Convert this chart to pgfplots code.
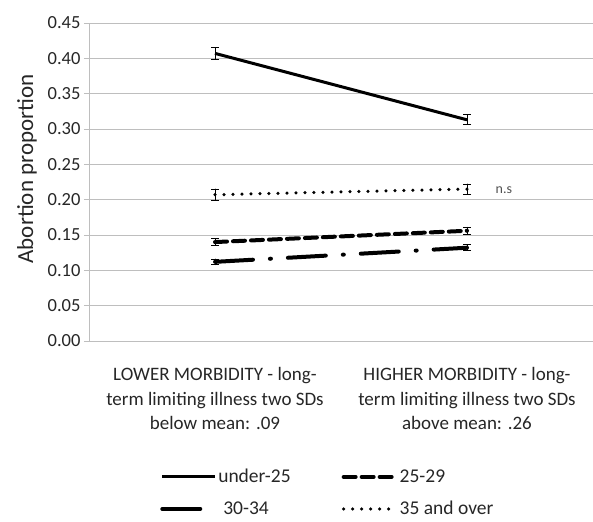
\documentclass[border=0pt]{standalone}
\usepackage{pgfplots}
\pgfplotsset{compat=1.18}
\usepackage{fontspec}
\setmainfont{Carlito}
\definecolor{txt}{RGB}{38,38,38}
\definecolor{gridc}{RGB}{190,190,190}
\begin{document}
\begin{tikzpicture}
\path[use as bounding box] (-89pt,-180pt) rectangle (504pt,341pt);
\begin{axis}[
  at={(0pt,0pt)}, anchor=south west,
  scale only axis, width=504pt, height=318pt,
  xmin=-0.5, xmax=1.5, ymin=0, ymax=0.45,
  ytick={0,0.05,0.10,0.15,0.20,0.25,0.30,0.35,0.40,0.45},
  yticklabel style={/pgf/number format/.cd, fixed, fixed zerofill, precision=2, /pgf/number format/assume math mode=true},
  ticklabel style={font=\fontsize{18.5}{22}\selectfont, text=txt},
  xtick={0,1},
  xticklabels={{LOWER MORBIDITY - long-\\term limiting illness two SDs\\below mean: .09},{HIGHER MORBIDITY - long-\\term limiting illness two SDs\\above mean: .26}},
  xticklabel style={align=center, font=\fontsize{19}{24.5}\selectfont, yshift=-18pt},
  x tick style={draw=none},
  axis x line=bottom, axis y line=left,
  axis line style={gridc, line width=0.8pt, -},
  y tick style={gridc, line width=0.8pt},
  tick align=outside, major tick length=5pt,
  ymajorgrids, grid style={gridc, line width=0.8pt},
  legend columns=2,
  legend cell align=left,
  legend image code/.code={\draw[#1] (0pt,0pt) -- (53pt,0pt);},
  legend style={at={(axis description cs:0.141,-0.40)}, anchor=north west, draw=none, fill=none,
     inner sep=0pt, font=\fontsize{19.5}{22}\selectfont, text=txt,
     nodes={inner sep=1pt},
     /tikz/every even column/.append style={column sep=50pt},
     row sep=15pt},
  error bars/y dir=both, error bars/y explicit,
  error bars/error mark=|,
  error bars/error bar style={solid, line width=0.8pt, black},
  error bars/error mark options={solid, line width=0.8pt, mark size=4pt, black},
]
\addplot[black, line width=3pt, line cap=butt] table[x=x, y=y, y error=e] {
x y e
0 0.407 0.009
1 0.313 0.007
};
\addlegendentry{under-25}
\addplot[black, line width=4pt, dash pattern=on 12pt off 6pt, line cap=round] table[x=x, y=y, y error=e] {
x y e
0 0.140 0.005
1 0.156 0.005
};
\addlegendentry{25-29}
\addplot[black, line width=4pt, dash pattern=on 38pt off 17pt on 1pt off 17pt, line cap=round] table[x=x, y=y, y error=e] {
x y e
0 0.112 0.004
1 0.132 0.004
};
\addlegendentry{\hspace*{5pt}30-34}
\addplot[black, line width=3.5pt, dash pattern=on 0pt off 9pt, line cap=round] table[x=x, y=y, y error=e] {
x y e
0 0.207 0.008
1 0.215 0.007
};
\addlegendentry{35 and over}
\node[anchor=west, font=\fontsize{14}{16}\selectfont, text=txt!80] at (axis cs:1.10,0.214) {n.s};
\end{axis}
\node[rotate=90, anchor=center, font=\fontsize{23}{25}\selectfont, text=txt] at (-62pt,172pt) {Abortion proportion};
\end{tikzpicture}
\end{document}
